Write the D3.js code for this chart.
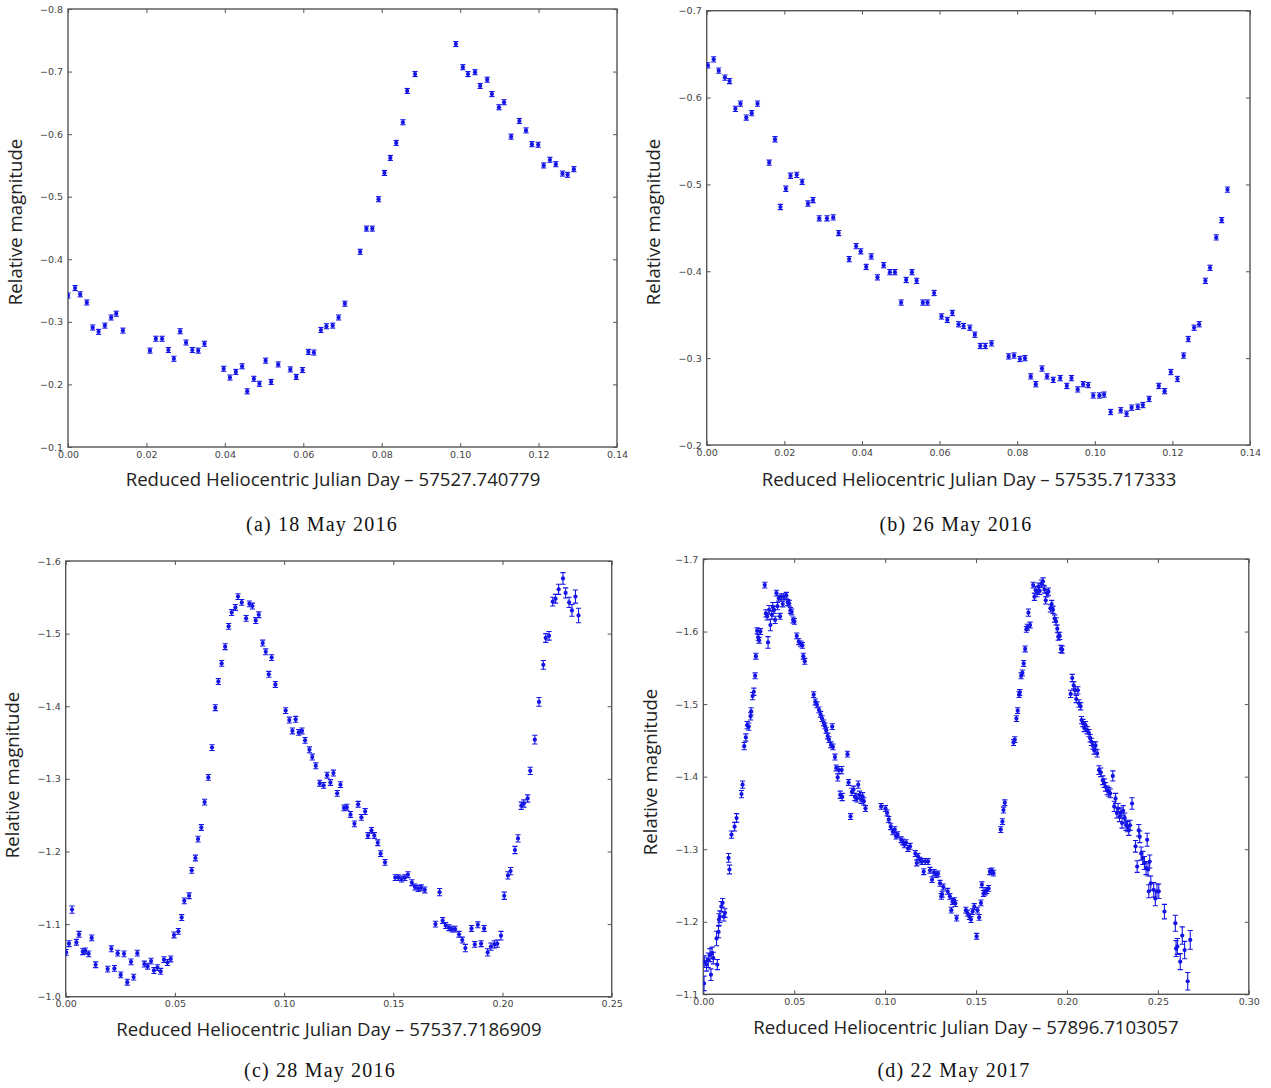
<!DOCTYPE html>
<html lang="en">
<head>
  <meta charset="utf-8">
  <script src="https://d3js.org/d3.v7.min.js"></script>
  <style>
    body { margin: 0; background: #fff; }
    .tick text { font-family: "DejaVu Sans", sans-serif; font-size: 9.5px; fill: #444; }
    .tick line { stroke: #555; }
    .title { font-family: "Open Sans", sans-serif; font-size: 18.6px; fill: #222; }
    .caption { font-family: "Liberation Serif", serif; font-size: 20px; letter-spacing: 1.2px; fill: #111; }
  </style>
</head>
<body>
<script>

// ---- data: [x, y] or [x, y, err] ----
var pointsA = [
  [0.0000,-0.342],[0.0018,-0.354],[0.0031,-0.344],[0.0048,-0.331],[0.0063,-0.291],[0.0078,-0.284],[0.0094,-0.294],[0.0110,-0.307],[0.0123,-0.313],[0.0140,-0.286],
  [0.0209,-0.254],[0.0224,-0.273],[0.0240,-0.273],[0.0256,-0.255],[0.0270,-0.241],[0.0286,-0.285],[0.0301,-0.267],[0.0317,-0.255],[0.0332,-0.254],[0.0348,-0.265],
  [0.0397,-0.225],[0.0413,-0.211],[0.0428,-0.220],[0.0444,-0.229],[0.0457,-0.189],[0.0474,-0.209],[0.0488,-0.201],[0.0504,-0.238],[0.0518,-0.204],[0.0536,-0.232],
  [0.0567,-0.224],[0.0582,-0.212],[0.0598,-0.223],[0.0613,-0.252],[0.0627,-0.251],[0.0645,-0.287],[0.0659,-0.293],[0.0675,-0.294],[0.0690,-0.307],[0.0706,-0.329],
  [0.0745,-0.412],[0.0761,-0.449],[0.0776,-0.449],[0.0792,-0.496],[0.0807,-0.538],[0.0822,-0.562],[0.0837,-0.586],[0.0854,-0.619],[0.0865,-0.669],[0.0885,-0.696],
  [0.0989,-0.744],[0.1007,-0.707],[0.1020,-0.696],[0.1038,-0.699],[0.1051,-0.677],[0.1069,-0.687],[0.1081,-0.664],[0.1099,-0.643],[0.1112,-0.651],[0.1130,-0.596],
  [0.1151,-0.621],[0.1168,-0.606],[0.1183,-0.584],[0.1199,-0.583],[0.1213,-0.550],[0.1229,-0.559],[0.1244,-0.552],[0.1261,-0.537],[0.1274,-0.535],[0.1290,-0.544]
];

var pointsB = [
  [0.0003,-0.637],[0.0018,-0.644],[0.0031,-0.631],[0.0047,-0.623],[0.0059,-0.619],[0.0074,-0.587],[0.0087,-0.593],[0.0102,-0.577],[0.0116,-0.582],[0.0131,-0.593],
  [0.0161,-0.525],[0.0176,-0.552],[0.0190,-0.474],[0.0204,-0.495],[0.0216,-0.510],[0.0232,-0.511],[0.0246,-0.503],[0.0261,-0.478],[0.0274,-0.482],[0.0290,-0.461],
  [0.0310,-0.461],[0.0326,-0.462],[0.0340,-0.444],[0.0367,-0.414],[0.0385,-0.429],[0.0397,-0.423],[0.0411,-0.405],[0.0424,-0.417],[0.0440,-0.393],[0.0456,-0.407],
  [0.0472,-0.399],[0.0485,-0.399],[0.0501,-0.364],[0.0514,-0.390],[0.0529,-0.399],[0.0541,-0.389],[0.0557,-0.364],[0.0569,-0.364],[0.0586,-0.375],[0.0605,-0.348],
  [0.0620,-0.344],[0.0633,-0.352],[0.0649,-0.339],[0.0662,-0.337],[0.0678,-0.335],[0.0691,-0.327],[0.0705,-0.314],[0.0718,-0.314],[0.0734,-0.317],[0.0778,-0.302],
  [0.0792,-0.303],[0.0807,-0.299],[0.0820,-0.300],[0.0835,-0.279],[0.0848,-0.270],[0.0864,-0.288],[0.0877,-0.279],[0.0893,-0.275],[0.0911,-0.277],[0.0928,-0.268],
  [0.0940,-0.277],[0.0956,-0.264],[0.0970,-0.270],[0.0983,-0.269],[0.0996,-0.257],[0.1012,-0.257],[0.1024,-0.258],[0.1041,-0.238],[0.1067,-0.240],[0.1082,-0.236],
  [0.1095,-0.243],[0.1111,-0.244],[0.1124,-0.246],[0.1140,-0.253],[0.1165,-0.268],[0.1180,-0.262],[0.1196,-0.284],[0.1213,-0.276],[0.1229,-0.303],[0.1241,-0.322],
  [0.1256,-0.335],[0.1269,-0.339],[0.1285,-0.389],[0.1297,-0.404],[0.1313,-0.439],[0.1327,-0.459],[0.1342,-0.494]
];

var pointsC = [
  [0.0002,-1.061,0.004],[0.0015,-1.073,0.004],[0.0029,-1.120,0.005],[0.0049,-1.075,0.004],[0.0061,-1.086,0.004],[0.0078,-1.062,0.004],[0.0090,-1.063,0.004],[0.0105,-1.059,0.004],
  [0.0119,-1.081,0.004],[0.0137,-1.044,0.004],[0.0192,-1.038,0.004],[0.0209,-1.066,0.004],[0.0223,-1.039,0.004],[0.0238,-1.060,0.004],[0.0252,-1.030,0.004],[0.0267,-1.059,0.004],
  [0.0282,-1.020,0.004],[0.0299,-1.048,0.004],[0.0311,-1.027,0.004],[0.0328,-1.060,0.004],[0.0360,-1.045,0.004],[0.0375,-1.042,0.004],[0.0391,-1.049,0.004],[0.0404,-1.036,0.004],
  [0.0420,-1.040,0.004],[0.0435,-1.035,0.004],[0.0450,-1.051,0.004],[0.0466,-1.047,0.004],[0.0481,-1.052,0.004],[0.0496,-1.085,0.004],[0.0516,-1.090,0.004],[0.0531,-1.109,0.004],
  [0.0543,-1.132,0.004],[0.0565,-1.139,0.004],[0.0577,-1.174,0.004],[0.0594,-1.191,0.004],[0.0606,-1.217,0.004],[0.0621,-1.233,0.004],[0.0636,-1.268,0.004],[0.0653,-1.302,0.004],
  [0.0670,-1.343,0.004],[0.0685,-1.398,0.004],[0.0699,-1.434,0.004],[0.0714,-1.459,0.004],[0.0730,-1.482,0.004],[0.0746,-1.510,0.004],[0.0760,-1.529,0.004],[0.0777,-1.536,0.004],
  [0.0789,-1.551,0.004],[0.0806,-1.543,0.004],[0.0826,-1.521,0.004],[0.0841,-1.541,0.004],[0.0855,-1.538,0.004],[0.0870,-1.518,0.004],[0.0884,-1.526,0.004],[0.0902,-1.487,0.004],
  [0.0916,-1.475,0.004],[0.0930,-1.444,0.004],[0.0943,-1.467,0.004],[0.0960,-1.430,0.004],[0.1007,-1.394,0.004],[0.1024,-1.381,0.004],[0.1038,-1.366,0.004],[0.1053,-1.382,0.004],
  [0.1067,-1.364,0.004],[0.1082,-1.366,0.004],[0.1096,-1.353,0.004],[0.1116,-1.340,0.004],[0.1129,-1.330,0.004],[0.1145,-1.318,0.004],[0.1163,-1.294,0.004],[0.1181,-1.291,0.004],
  [0.1197,-1.305,0.004],[0.1212,-1.295,0.004],[0.1226,-1.308,0.004],[0.1243,-1.280,0.004],[0.1258,-1.292,0.004],[0.1274,-1.260,0.004],[0.1287,-1.261,0.004],[0.1304,-1.251,0.004],
  [0.1322,-1.238,0.004],[0.1339,-1.265,0.004],[0.1354,-1.247,0.004],[0.1371,-1.255,0.004],[0.1384,-1.222,0.004],[0.1400,-1.229,0.004],[0.1413,-1.222,0.004],[0.1429,-1.212,0.004],
  [0.1442,-1.197,0.004],[0.1462,-1.185,0.004],[0.1509,-1.164,0.004],[0.1523,-1.164,0.004],[0.1538,-1.162,0.004],[0.1553,-1.164,0.004],[0.1567,-1.168,0.004],[0.1585,-1.157,0.004],
  [0.1599,-1.151,0.004],[0.1614,-1.149,0.004],[0.1628,-1.150,0.004],[0.1644,-1.147,0.004],[0.1693,-1.100,0.004],[0.1712,-1.144,0.005],[0.1726,-1.105,0.004],[0.1740,-1.098,0.004],
  [0.1755,-1.095,0.004],[0.1769,-1.093,0.004],[0.1783,-1.093,0.004],[0.1801,-1.086,0.004],[0.1816,-1.078,0.004],[0.1830,-1.067,0.005],[0.1858,-1.094,0.004],[0.1873,-1.072,0.004],
  [0.1887,-1.099,0.004],[0.1902,-1.073,0.004],[0.1916,-1.094,0.004],[0.1932,-1.061,0.005],[0.1947,-1.069,0.005],[0.1963,-1.072,0.005],[0.1976,-1.073,0.005],[0.1993,-1.084,0.006],
  [0.2008,-1.139,0.005],[0.2025,-1.167,0.005],[0.2037,-1.173,0.005],[0.2057,-1.202,0.005],[0.2071,-1.218,0.005],[0.2086,-1.263,0.005],[0.2098,-1.266,0.005],[0.2115,-1.273,0.005],
  [0.2127,-1.311,0.005],[0.2148,-1.354,0.006],[0.2167,-1.406,0.006],[0.2187,-1.457,0.006],[0.2198,-1.494,0.006],[0.2213,-1.497,0.006],[0.2230,-1.544,0.006],[0.2243,-1.548,0.006],
  [0.2257,-1.561,0.007],[0.2277,-1.576,0.008],[0.2289,-1.556,0.007],[0.2305,-1.543,0.007],[0.2318,-1.532,0.008],[0.2334,-1.551,0.009],[0.2348,-1.525,0.010]
];

var pointsD = [
  [0.0004,-1.115,0.010],[0.0005,-1.145,0.008],[0.0018,-1.141,0.009],[0.0027,-1.147,0.010],[0.0037,-1.154,0.009],[0.0042,-1.127,0.008],[0.0048,-1.157,0.008],[0.0055,-1.150,0.008],
  [0.0073,-1.177,0.010],[0.0077,-1.141,0.007],[0.0084,-1.186,0.008],[0.0086,-1.203,0.008],[0.0091,-1.207,0.008],[0.0099,-1.221,0.007],[0.0106,-1.226,0.006],[0.0113,-1.207,0.006],
  [0.0119,-1.212,0.006],[0.0139,-1.288,0.006],[0.0144,-1.272,0.006],[0.0155,-1.320,0.005],[0.0172,-1.331,0.006],[0.0183,-1.343,0.006],[0.0210,-1.376,0.005],[0.0216,-1.389,0.005],
  [0.0225,-1.442,0.005],[0.0234,-1.454,0.005],[0.0241,-1.471,0.005],[0.0250,-1.469,0.005],[0.0260,-1.483,0.005],[0.0263,-1.490,0.005],[0.0271,-1.511,0.005],[0.0278,-1.517,0.005],
  [0.0285,-1.539,0.004],[0.0289,-1.566,0.004],[0.0296,-1.601,0.004],[0.0302,-1.592,0.004],[0.0307,-1.588,0.004],[0.0314,-1.600,0.004],[0.0338,-1.664,0.004],[0.0344,-1.625,0.005],
  [0.0351,-1.621,0.005],[0.0356,-1.585,0.008],[0.0362,-1.630,0.006],[0.0369,-1.609,0.008],[0.0377,-1.623,0.006],[0.0382,-1.634,0.006],[0.0389,-1.630,0.005],[0.0395,-1.616,0.005],
  [0.0402,-1.653,0.004],[0.0408,-1.635,0.005],[0.0415,-1.646,0.004],[0.0422,-1.621,0.004],[0.0428,-1.648,0.004],[0.0437,-1.638,0.004],[0.0442,-1.648,0.004],[0.0457,-1.650,0.004],
  [0.0464,-1.640,0.004],[0.0472,-1.639,0.004],[0.0479,-1.629,0.004],[0.0486,-1.627,0.004],[0.0494,-1.616,0.004],[0.0501,-1.614,0.004],[0.0514,-1.594,0.004],[0.0525,-1.586,0.004],
  [0.0536,-1.583,0.004],[0.0545,-1.581,0.004],[0.0550,-1.566,0.004],[0.0558,-1.559,0.004],[0.0607,-1.513,0.004],[0.0616,-1.503,0.004],[0.0625,-1.499,0.004],[0.0636,-1.492,0.004],
  [0.0645,-1.486,0.004],[0.0653,-1.480,0.004],[0.0662,-1.474,0.004],[0.0669,-1.470,0.004],[0.0676,-1.464,0.004],[0.0684,-1.456,0.004],[0.0691,-1.451,0.004],[0.0702,-1.444,0.004],
  [0.0709,-1.469,0.004],[0.0713,-1.441,0.004],[0.0724,-1.427,0.004],[0.0731,-1.412,0.004],[0.0739,-1.399,0.005],[0.0746,-1.409,0.005],[0.0753,-1.375,0.005],[0.0761,-1.409,0.005],
  [0.0764,-1.372,0.005],[0.0793,-1.431,0.004],[0.0799,-1.392,0.004],[0.0810,-1.345,0.004],[0.0817,-1.379,0.005],[0.0826,-1.382,0.005],[0.0834,-1.372,0.005],[0.0845,-1.370,0.005],
  [0.0852,-1.389,0.005],[0.0859,-1.375,0.005],[0.0868,-1.368,0.005],[0.0876,-1.373,0.005],[0.0883,-1.366,0.005],[0.0892,-1.356,0.004],[0.0978,-1.359,0.004],[0.1002,-1.356,0.004],
  [0.1011,-1.350,0.004],[0.1020,-1.341,0.004],[0.1031,-1.331,0.004],[0.1042,-1.324,0.004],[0.1053,-1.327,0.004],[0.1060,-1.318,0.004],[0.1069,-1.320,0.004],[0.1088,-1.313,0.004],
  [0.1097,-1.310,0.004],[0.1106,-1.306,0.004],[0.1115,-1.309,0.004],[0.1126,-1.301,0.004],[0.1137,-1.304,0.004],[0.1166,-1.294,0.004],[0.1174,-1.281,0.004],[0.1181,-1.290,0.004],
  [0.1192,-1.285,0.004],[0.1203,-1.283,0.004],[0.1212,-1.269,0.004],[0.1221,-1.283,0.004],[0.1236,-1.283,0.004],[0.1247,-1.271,0.004],[0.1258,-1.258,0.004],[0.1269,-1.268,0.004],
  [0.1280,-1.265,0.004],[0.1291,-1.266,0.004],[0.1302,-1.253,0.004],[0.1309,-1.235,0.004],[0.1313,-1.238,0.004],[0.1320,-1.248,0.004],[0.1344,-1.242,0.004],[0.1356,-1.235,0.004],
  [0.1364,-1.216,0.004],[0.1371,-1.228,0.004],[0.1380,-1.229,0.004],[0.1386,-1.225,0.004],[0.1393,-1.205,0.004],[0.1444,-1.216,0.004],[0.1453,-1.212,0.004],[0.1463,-1.207,0.004],
  [0.1472,-1.203,0.004],[0.1481,-1.214,0.004],[0.1490,-1.221,0.004],[0.1503,-1.180,0.004],[0.1508,-1.216,0.004],[0.1517,-1.206,0.004],[0.1527,-1.226,0.004],[0.1532,-1.251,0.004],
  [0.1541,-1.239,0.004],[0.1550,-1.241,0.004],[0.1559,-1.243,0.004],[0.1569,-1.246,0.004],[0.1576,-1.269,0.004],[0.1587,-1.270,0.004],[0.1596,-1.267,0.004],[0.1636,-1.327,0.004],
  [0.1645,-1.338,0.004],[0.1651,-1.354,0.004],[0.1658,-1.364,0.004],[0.1706,-1.447,0.004],[0.1713,-1.451,0.004],[0.1722,-1.480,0.004],[0.1729,-1.491,0.004],[0.1737,-1.513,0.004],
  [0.1740,-1.516,0.004],[0.1748,-1.539,0.004],[0.1755,-1.543,0.004],[0.1762,-1.556,0.004],[0.1770,-1.576,0.004],[0.1777,-1.603,0.004],[0.1782,-1.606,0.004],[0.1788,-1.626,0.005],
  [0.1797,-1.609,0.004],[0.1814,-1.664,0.004],[0.1821,-1.648,0.005],[0.1828,-1.657,0.005],[0.1835,-1.653,0.005],[0.1843,-1.662,0.005],[0.1850,-1.656,0.005],[0.1859,-1.666,0.005],
  [0.1868,-1.669,0.005],[0.1876,-1.658,0.005],[0.1883,-1.643,0.005],[0.1890,-1.653,0.005],[0.1898,-1.655,0.005],[0.1909,-1.632,0.005],[0.1916,-1.638,0.005],[0.1923,-1.630,0.005],
  [0.1932,-1.618,0.005],[0.1940,-1.614,0.005],[0.1947,-1.604,0.005],[0.1952,-1.593,0.005],[0.1960,-1.594,0.005],[0.1967,-1.576,0.005],[0.1974,-1.575,0.005],[0.2020,-1.514,0.005],
  [0.2029,-1.536,0.005],[0.2037,-1.526,0.005],[0.2044,-1.519,0.005],[0.2051,-1.507,0.005],[0.2060,-1.519,0.005],[0.2066,-1.501,0.005],[0.2075,-1.497,0.005],[0.2080,-1.478,0.005],
  [0.2088,-1.474,0.005],[0.2095,-1.467,0.005],[0.2102,-1.471,0.005],[0.2111,-1.464,0.005],[0.2121,-1.460,0.005],[0.2128,-1.453,0.005],[0.2135,-1.448,0.005],[0.2143,-1.443,0.005],
  [0.2150,-1.436,0.005],[0.2157,-1.443,0.005],[0.2166,-1.432,0.005],[0.2176,-1.409,0.006],[0.2186,-1.406,0.006],[0.2197,-1.395,0.006],[0.2205,-1.391,0.006],[0.2212,-1.386,0.006],
  [0.2221,-1.381,0.006],[0.2230,-1.379,0.006],[0.2238,-1.377,0.006],[0.2252,-1.401,0.007],[0.2260,-1.359,0.007],[0.2267,-1.370,0.007],[0.2274,-1.350,0.007],[0.2281,-1.356,0.007],
  [0.2289,-1.345,0.007],[0.2296,-1.350,0.007],[0.2303,-1.336,0.007],[0.2309,-1.353,0.007],[0.2318,-1.343,0.007],[0.2325,-1.333,0.007],[0.2333,-1.331,0.007],[0.2340,-1.326,0.007],
  [0.2347,-1.333,0.007],[0.2358,-1.363,0.008],[0.2377,-1.304,0.008],[0.2386,-1.276,0.008],[0.2395,-1.326,0.008],[0.2400,-1.317,0.008],[0.2408,-1.294,0.009],[0.2417,-1.288,0.009],
  [0.2426,-1.281,0.009],[0.2435,-1.274,0.009],[0.2441,-1.313,0.009],[0.2446,-1.272,0.009],[0.2450,-1.242,0.009],[0.2455,-1.283,0.009],[0.2461,-1.253,0.010],[0.2477,-1.244,0.010],
  [0.2486,-1.232,0.010],[0.2495,-1.242,0.010],[0.2505,-1.242,0.010],[0.2536,-1.214,0.010],[0.2596,-1.198,0.011],[0.2600,-1.163,0.011],[0.2607,-1.166,0.011],[0.2623,-1.145,0.011],
  [0.2634,-1.181,0.012],[0.2647,-1.161,0.012],[0.2664,-1.118,0.012],[0.2678,-1.175,0.013]
];

var errA = 0.004, errB = 0.003;

var xTicksAB = [0, 0.02, 0.04, 0.06, 0.08, 0.10, 0.12, 0.14];
var xTicksC = [0, 0.05, 0.10, 0.15, 0.20, 0.25];
var xTicksD = [0, 0.05, 0.10, 0.15, 0.20, 0.25, 0.30];
var yTicksA = [-0.8, -0.7, -0.6, -0.5, -0.4, -0.3, -0.2, -0.1];
var yTicksB = [-0.7, -0.6, -0.5, -0.4, -0.3, -0.2];
var yTicksC = [-1.6, -1.5, -1.4, -1.3, -1.2, -1.1, -1.0];
var yTicksD = [-1.7, -1.6, -1.5, -1.4, -1.3, -1.2, -1.1];

var xTitles = [
  "Reduced Heliocentric Julian Day \u2013 57527.740779",
  "Reduced Heliocentric Julian Day \u2013 57535.717333",
  "Reduced Heliocentric Julian Day \u2013 57537.7186909",
  "Reduced Heliocentric Julian Day \u2013 57896.7103057"
];
var captions = ["(a) 18 May 2016", "(b) 26 May 2016", "(c) 28 May 2016", "(d) 22 May 2017"];

var width = 1271, height = 1088;

var svg = d3.select("body").append("svg")
    .attr("width", width)
    .attr("height", height);

var panels = [
  {pts: pointsA, err: errA, xd: [0, 0.14], yd: [-0.1, -0.8], xt: xTicksAB, yt: yTicksA, xf: ".2f",
   left: 68, top: 9, w: 549, h: 438, ylx: 17, yly: 222, xtx: 333, xty: 481, cx: 322, cy: 526},
  {pts: pointsB, err: errB, xd: [0, 0.14], yd: [-0.2, -0.7], xt: xTicksAB, yt: yTicksB, xf: ".2f",
   left: 706.7, top: 10.7, w: 543.3, h: 434.3, ylx: 655, yly: 222, xtx: 969, xty: 481, cx: 956, cy: 526},
  {pts: pointsC, err: 0.004, xd: [0, 0.25], yd: [-1.0, -1.6], xt: xTicksC, yt: yTicksC, xf: ".2f",
   left: 65.7, top: 561, w: 546, h: 435.7, ylx: 14.5, yly: 775, xtx: 329, xty: 1031, cx: 320, cy: 1072},
  {pts: pointsD, err: 0.004, xd: [0, 0.30], yd: [-1.1, -1.7], xt: xTicksD, yt: yTicksD, xf: ".2f",
   left: 703.3, top: 559, w: 545.5, h: 435.3, ylx: 652, yly: 772, xtx: 966, xty: 1029, cx: 954, cy: 1072}
];

panels.forEach(function(p, i) {
  var x = d3.scaleLinear().domain(p.xd).range([0, p.w]);
  var y = d3.scaleLinear().domain(p.yd).range([p.h, 0]);

  var g = svg.append("g").attr("transform", "translate(" + p.left + "," + p.top + ")");

  g.append("clipPath").attr("id", "clip" + i)
    .append("rect").attr("width", p.w).attr("height", p.h);

  // ticks point inward on all four sides
  g.append("g").call(d3.axisLeft(y).tickValues(p.yt).tickFormat(d3.format(".1f")).tickSize(-4).tickPadding(5));
  g.append("g").attr("transform", "translate(" + p.w + ",0)")
    .call(d3.axisRight(y).tickValues(p.yt).tickFormat("").tickSize(-4));
  g.append("g").attr("transform", "translate(0," + p.h + ")")
    .call(d3.axisBottom(x).tickValues(p.xt).tickFormat(d3.format(p.xf)).tickSize(-4).tickPadding(4));
  g.append("g")
    .call(d3.axisTop(x).tickValues(p.xt).tickFormat("").tickSize(-4));
  g.selectAll(".domain").remove();

  g.append("rect")
    .attr("width", p.w).attr("height", p.h)
    .attr("fill", "none").attr("stroke", "#555").attr("stroke-width", 1.4);

  var marks = g.append("g").attr("clip-path", "url(#clip" + i + ")")
    .selectAll("g").data(p.pts).enter().append("g")
    .attr("stroke", "#1414e6").attr("fill", "#1414e6");

  marks.append("line")
    .attr("x1", function(d) { return x(d[0]); })
    .attr("x2", function(d) { return x(d[0]); })
    .attr("y1", function(d) { return y(d[1] - (d[2] || p.err)); })
    .attr("y2", function(d) { return y(d[1] + (d[2] || p.err)); })
    .attr("stroke-width", 1.1);
  [-1, 1].forEach(function(s) {
    marks.append("line")
      .attr("x1", function(d) { return x(d[0]) - 2.6; })
      .attr("x2", function(d) { return x(d[0]) + 2.6; })
      .attr("y1", function(d) { return y(d[1] + s * (d[2] || p.err)); })
      .attr("y2", function(d) { return y(d[1] + s * (d[2] || p.err)); })
      .attr("stroke-width", 1.1);
  });
  marks.append("circle")
    .attr("cx", function(d) { return x(d[0]); })
    .attr("cy", function(d) { return y(d[1]); })
    .attr("r", 2.1)
    .attr("stroke", "none");

  svg.append("text").attr("class", "title")
    .attr("transform", "translate(" + p.ylx + "," + p.yly + ") rotate(-90)")
    .attr("text-anchor", "middle").attr("dominant-baseline", "middle")
    .text("Relative magnitude");

  svg.append("text").attr("class", "title")
    .attr("x", p.xtx).attr("y", p.xty)
    .attr("text-anchor", "middle").attr("dominant-baseline", "middle")
    .text(xTitles[i]);

  svg.append("text").attr("class", "caption")
    .attr("x", p.cx).attr("y", p.cy)
    .attr("text-anchor", "middle").attr("dominant-baseline", "middle")
    .text(captions[i]);
});

</script>
</body>
</html>
